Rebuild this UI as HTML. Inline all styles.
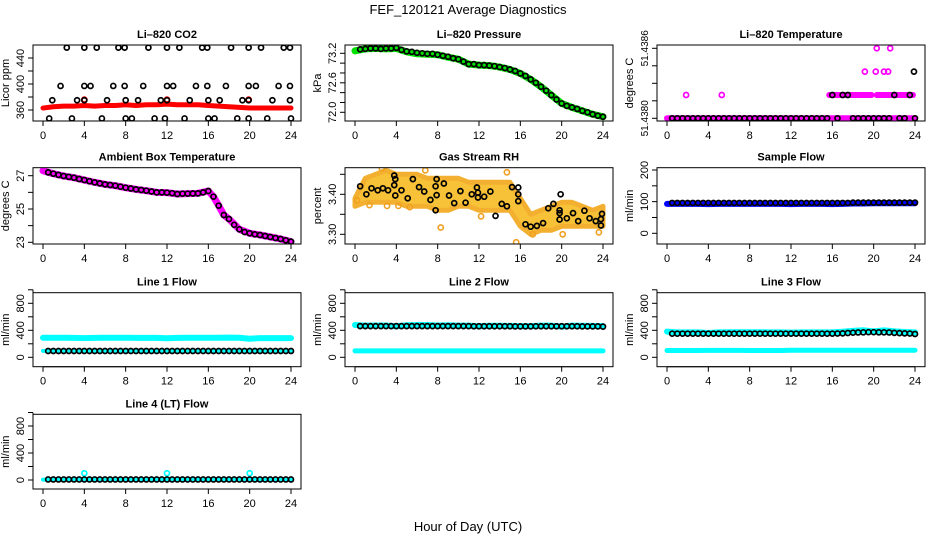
<!DOCTYPE html>
<html><head><meta charset="utf-8"><style>
html,body{margin:0;padding:0;background:#fff;}
svg{display:block;font-family:"Liberation Sans",sans-serif;}
</style></head><body>
<svg id="chart" width="936" height="540" viewBox="0 0 936 540" xmlns="http://www.w3.org/2000/svg">
<rect x="0" y="0" width="936" height="540" fill="#fff"/>
<text x="468" y="14" text-anchor="middle" font-size="13">FEF_120121  Average Diagnostics</text>
<text x="468" y="531" text-anchor="middle" font-size="13">Hour of Day (UTC)</text>
</svg>
<script>
const halfHours=[0.5,1,1.5,2,2.5,3,3.5,4,4.5,5,5.5,6,6.5,7,7.5,8,8.5,9,9.5,10,10.5,11,11.5,12,12.5,13,13.5,14,14.5,15,15.5,16,16.5,17,17.5,18,18.5,19,19.5,20,20.5,21,21.5,22,22.5,23,23.5,24];
const hourly=[0,1,2,3,4,5,6,7,8,9,10,11,12,13,14,15,16,17,18,19,20,21,22,23,24];
const xTickLabels=[0,4,8,12,16,20,24];
// CO2
const co2Band=[363,365,366,366,367,366,367,367,368,367,368,368,369,368,368,368,367,366,365,364,363,363,363,363,363];
const co2BlackHours=[2.3,4.0,5.2,7.3,7.9,10.2,12.0,13.2,15.4,15.9,18.2,19.9,21.1,23.3,23.9,1.7,4.0,4.6,6.8,7.9,9.7,12.0,12.6,14.8,15.9,17.7,19.9,20.6,22.8,23.9,0.9,3.3,4.0,6.2,8.0,9.2,11.4,12.0,14.2,16.0,17.1,19.3,19.9,22.2,23.9,0.6,2.8,5.7,8.0,8.6,10.8,11.8,13.7,16.0,16.6,18.8,19.9,21.7,24.0];
const co2BlackVals=[456,456,456,456,456,456,456,456,456,456,456,456,456,456,456,397,397,397,397,397,397,397,397,397,397,397,397,397,397,397,375,375,375,375,375,375,375,375,375,375,375,375,375,375,375,347,347,347,347,347,347,347,347,347,347,347,347,347,347];
const co2RedHours=[4.0,12.0,19.9];
const co2RedVals=[376,376,376];
// Pressure
const pressBand=[73.25,73.29,73.30,73.29,73.30,73.23,73.19,73.18,73.17,73.12,73.08,72.98,72.96,72.95,72.92,72.87,72.79,72.67,72.52,72.35,72.18,72.10,72.03,71.96,71.91];
const pressBlack=[73.28,73.29,73.30,73.30,73.29,73.30,73.30,73.31,73.27,73.24,73.23,73.21,73.20,73.19,73.19,73.17,73.15,73.13,73.10,73.08,73.03,72.98,72.98,72.96,72.96,72.95,72.94,72.92,72.90,72.87,72.84,72.79,72.74,72.67,72.60,72.52,72.44,72.35,72.26,72.18,72.13,72.10,72.07,72.03,72.00,71.96,71.93,71.91];
// Li-820 Temperature
const tempBlack=[51.4380,51.4380,51.4380,51.4380,51.4380,51.4380,51.4380,51.4380,51.4380,51.4380,51.4380,51.4380,51.4380,51.4380,51.4380,51.4380,51.4380,51.4380,51.4380,51.4380,51.4380,51.4380,51.4380,51.4380,51.4380,51.4380,51.4380,51.4380,51.4380,51.4380,51.4380,51.4382,51.4380,51.4382,51.4382,51.4380,51.4380,51.4380,51.4380,51.4380,51.4380,51.4380,51.4380,51.4382,51.4380,51.4380,51.4382,51.4380];
const tempBlackExtraHours=[23.9];
const tempBlackExtraVals=[51.4384];
const tempMagHours=[1.85,5.3,19.15,20.2,21.0,21.4,20.3,21.6];
const tempMagVals=[51.4382,51.4382,51.4384,51.4384,51.4384,51.4384,51.4386,51.4386];
const tempMagSegStart=[0,15.7,20.3];
const tempMagSegEnd=[24,19.8,23.8];
const tempMagSegVal=[51.4380,51.4382,51.4382];
// Ambient
const ambHours=[0,1,2,3,4,5,6,7,8,9,10,11,12,13,14,15,16,16.5,17,17.5,18,19,20,21,22,23,24];
const ambBand=[27.3,27.12,26.98,26.88,26.74,26.6,26.48,26.4,26.28,26.18,26.1,26.0,25.98,25.9,25.92,25.94,26.08,25.74,25.2,24.64,24.4,23.78,23.54,23.44,23.32,23.2,23.04];
const ambBlack=[27.2,27.12,27.05,26.98,26.93,26.88,26.8,26.74,26.67,26.6,26.54,26.48,26.44,26.4,26.34,26.28,26.23,26.18,26.14,26.1,26.05,26.0,26.0,25.98,25.95,25.9,25.92,25.92,25.93,25.94,26.0,26.08,25.74,25.2,24.64,24.4,24.05,23.78,23.62,23.54,23.48,23.44,23.38,23.32,23.26,23.2,23.12,23.04];
// Gas stream RH
const rhLo=[3.37,3.38,3.38,3.38,3.38,3.37,3.37,3.37,3.36,3.36,3.37,3.37,3.36,3.36,3.36,3.36,3.32,3.30,3.31,3.31,3.32,3.32,3.32,3.32,3.32];
const rhHi=[3.39,3.44,3.45,3.46,3.45,3.45,3.45,3.44,3.44,3.44,3.44,3.43,3.43,3.43,3.43,3.43,3.39,3.35,3.36,3.37,3.38,3.38,3.37,3.36,3.37];
const rhOrangeHours=[1.4,3.1,4.2,5.3,6.8,8.3,12.2,14.7,15.6,17.2,20.1,23.6,0.2,2.6];
const rhOrangeVals=[3.373,3.371,3.371,3.368,3.46,3.317,3.345,3.455,3.28,3.30,3.30,3.305,3.385,3.465];
const rhBlackHours=[0.5,1.1,1.6,2.2,2.7,3.2,3.8,3.8,3.9,3.9,4.5,5.1,5.6,6.2,6.7,7.3,7.8,7.8,7.9,7.9,8.6,9.1,9.6,10.2,10.7,11.3,11.8,11.9,11.9,12.5,13.1,13.6,14.2,14.7,15.2,15.8,15.8,15.8,16.5,17.0,17.6,18.2,18.7,19.2,19.8,19.8,19.9,19.8,20.5,21.1,21.6,22.2,22.7,23.3,23.8,23.8,23.9];
const rhBlackVals=[3.42,3.40,3.415,3.41,3.415,3.41,3.447,3.423,3.438,3.397,3.41,3.39,3.438,3.418,3.407,3.386,3.36,3.42,3.438,3.398,3.427,3.397,3.378,3.408,3.379,3.40,3.417,3.392,3.404,3.394,3.407,3.346,3.376,3.37,3.418,3.417,3.40,3.383,3.325,3.319,3.321,3.328,3.365,3.376,3.36,3.337,3.40,3.353,3.34,3.353,3.333,3.359,3.34,3.333,3.338,3.322,3.351];
// Sample flow
const sampleBand=[93,93,93,93,92,93,93,93,93,93,93,93,92,93,93,93,92,93,94,94,95,95,95,95,95];
const sampleBlack=[96,96,96,96,96,96,96,96,96,96,96,96,96,96,96,96,96,96,96,96,96,96,96,96,96,96,96,96,96,96,96,96,96,96,96,97,97,97,97,97,97,97,97,97,97,97,97,97];
// Line flows
const line1CyanHi=[290,290,290,288,285,288,290,290,290,288,288,288,282,288,290,290,290,290,292,290,275,285,285,285,285];
const line1CyanLo=[95,95,95,95,95,95,95,95,95,95,95,95,95,95,95,95,95,98,100,100,100,100,98,95,95];
const line1Black=[93,93,93,93,93,93,93,93,93,93,93,93,93,93,93,93,93,93,93,93,93,93,93,93,93,93,93,93,93,93,93,93,93,93,93,93,93,93,93,93,93,93,93,93,93,93,93,93];
const line2CyanHi=[478,470,472,472,460,475,478,478,472,475,470,470,460,468,468,465,462,462,470,470,455,470,468,465,462];
const line2CyanLo=[95,95,95,95,95,95,95,95,95,95,95,95,95,95,95,95,95,95,95,95,95,95,95,95,95];
const line2Black=[462,462,462,462,462,462,462,462,462,462,462,462,462,462,462,462,462,462,462,462,462,462,460,460,460,460,460,460,460,460,458,458,458,458,460,460,460,460,460,460,460,460,460,458,458,458,458,455];
const line3CyanHi=[380,370,370,370,360,370,372,372,372,372,370,370,365,370,370,370,370,378,392,400,385,400,385,375,370];
const line3CyanLo=[100,100,100,100,102,102,102,102,100,100,100,100,105,105,105,105,105,105,105,105,105,105,105,105,105];
const line3Black=[350,350,350,350,350,350,350,350,350,350,350,350,350,350,350,350,350,350,350,350,350,350,350,350,350,350,350,350,350,350,350,350,352,355,360,365,368,370,372,372,370,370,368,362,358,355,352,345];
const line4Cyan=[5,5,5,5,5,5,5,5,5,5,5,5,5,5,5,5,5,5,5,5,5,5,5,5,5];
const line4SpikeHours=[4,12,20];
const line4SpikeVals=[100,100,100];
const line4Black=[8,8,8,8,8,8,8,8,8,8,8,8,8,8,8,8,8,8,8,8,8,8,8,8,8,8,8,8,8,8,8,8,8,8,8,8,8,8,8,8,8,8,8,8,8,8,8,8];

const NS='http://www.w3.org/2000/svg';
const svg=document.getElementById('chart');
const rowTop=[45,167.7,292.7,414.3];
const rowBot=[121,244,366.7,489];
function mk(tag,attrs,parent){const e=document.createElementNS(NS,tag);for(const k in attrs)e.setAttribute(k,attrs[k]);(parent||svg).appendChild(e);return e;}

function makePanel(p){
  const g=mk('g',{});
  
  
  const L=p.col*312+33, R=p.col*312+301, T=rowTop[p.row], B=rowBot[p.row];
  const x=h=>L+10+h*(R-L-20)/24;
  const y=v=>p.py1+(v-p.v1)*(p.py2-p.py1)/(p.v2-p.v1);
  const clip='clip-'+p.name;
  const cp=mk('clipPath',{id:clip},g);mk('rect',{x:L,y:T,width:R-L,height:B-T},cp);
  const data=mk('g',{'clip-path':'url(#'+clip+')'},g);
  p.draw(data,x,y);
  const box=mk('rect',{x:L,y:T,width:R-L,height:B-T,fill:'none',stroke:'#000','stroke-width':1},g);
  
  
  const t=mk('text',{x:(L+R)/2,y:T-7,'text-anchor':'middle','font-size':11,'font-weight':'bold'},g);
  t.textContent=p.title;
  
  
  const xa=mk('g',{},g);
  
  
  mk('line',{x1:x(0),x2:x(24),y1:B,y2:B,stroke:'#000'},xa);
  xTickLabels.forEach(v=>{
    mk('line',{x1:x(v),x2:x(v),y1:B,y2:B+5,stroke:'#000'},xa);
    const tl=mk('text',{x:x(v),y:B+18,'text-anchor':'middle','font-size':11},xa);tl.textContent=v;
  });
  const ya=mk('g',{},g);
  
  
  const yt=p.yTicks;
  mk('line',{x1:L,x2:L,y1:y(yt[0]),y2:y(yt[yt.length-1]),stroke:'#000'},ya);
  yt.forEach(v=>mk('line',{x1:L-5,x2:L,y1:y(v),y2:y(v),stroke:'#000'},ya));
  const fs=p.yLabelSize||11;
  p.yLabels.forEach((v,i)=>{
    const yy=y(v);
    const tl=mk('text',{x:L-9,y:yy,'text-anchor':'middle','font-size':fs,transform:'rotate(-90 '+(L-9)+' '+yy+')'},ya);
    tl.textContent=p.yLabelText?p.yLabelText[i]:v;
  });
  const my=(T+B)/2;
  const at=mk('text',{x:L-24,y:my,'text-anchor':'middle','font-size':11,transform:'rotate(-90 '+(L-24)+' '+my+')'},g);
  at.textContent=p.ytitle;
  
  
}
function band(par,hs,vs,x,y,color,w,name){
  const pl=mk('polyline',{points:hs.map((h,i)=>x(h)+','+y(vs[i])).join(' '),fill:'none',stroke:color,'stroke-width':w,'stroke-linejoin':'round','stroke-linecap':'round'},par);
  
  
}
function circles(par,hs,vs,x,y,color,name,r,sw){
  const gg=mk('g',{},par);
  
  
  hs.forEach((h,i)=>mk('circle',{cx:x(h),cy:y(vs[i]),r:r||2.5,fill:'none',stroke:color,'stroke-width':sw||1.7},gg));
}

makePanel({name:'co2',title:'Li\u2013820 CO2',col:0,row:0,ytitle:'Licor ppm',v1:360,py1:110,v2:440,py2:58,
  yTicks:[360,380,400,420,440],yLabels:[360,400,440],
  draw:(g,x,y)=>{band(g,hourly,co2Band,x,y,'#ff0000',5,'co2-red-series');
    circles(g,co2RedHours,co2RedVals,x,y,'#ff0000','co2-red-outliers');
    circles(g,co2BlackHours,co2BlackVals,x,y,'#000','co2-black-series');}});
makePanel({name:'pressure',title:'Li\u2013820 Pressure',col:1,row:0,ytitle:'kPa',v1:73.2,py1:53.3,v2:72.0,py2:112.3,
  yTicks:[72.0,72.2,72.4,72.6,72.8,73.0,73.2],yLabels:[72.0,72.6,73.2],yLabelText:['72.0','72.6','73.2'],
  draw:(g,x,y)=>{band(g,hourly,pressBand,x,y,'#00e000',7,'pressure-green-series');
    circles(g,halfHours,pressBlack,x,y,'#000','pressure-black-series');}});
makePanel({name:'li820-temperature',title:'Li\u2013820 Temperature',col:2,row:0,ytitle:'degrees C',v1:51.4380,py1:118.3,v2:51.4386,py2:48.3,
  yTicks:[51.4380,51.43815,51.4383,51.43845,51.4386],yLabels:[51.4380,51.4386],yLabelText:['51.4380','51.4386'],yLabelSize:10,
  draw:(g,x,y)=>{
    tempMagSegStart.forEach((s,i)=>band(g,[s,tempMagSegEnd[i]],[tempMagSegVal[i],tempMagSegVal[i]],x,y,'#ff00ff',6,'temp-magenta-band'));
    circles(g,tempMagHours,tempMagVals,x,y,'#ff00ff','temp-magenta-points');
    circles(g,halfHours,tempBlack,x,y,'#000','temp-black-series');
    circles(g,tempBlackExtraHours,tempBlackExtraVals,x,y,'#000','temp-black-extra');}});
makePanel({name:'ambient-temperature',title:'Ambient Box Temperature',col:0,row:1,ytitle:'degrees C',v1:27,py1:175.7,v2:23,py2:242.3,
  yTicks:[23,24,25,26,27],yLabels:[23,25,27],
  draw:(g,x,y)=>{band(g,ambHours,ambBand,x,y,'#ff00ff',7,'ambient-magenta-series');
    circles(g,halfHours,ambBlack,x,y,'#000','ambient-black-series');}});
makePanel({name:'gas-rh',title:'Gas Stream RH',col:1,row:1,ytitle:'percent',v1:3.40,py1:194.3,v2:3.30,py2:234.3,
  yTicks:[3.30,3.35,3.40,3.45],yLabels:[3.30,3.40],yLabelText:['3.30','3.40'],
  draw:(g,x,y)=>{
    const pts=hourly.map((h,i)=>x(h)+','+y(rhHi[i])).concat(hourly.slice().reverse().map((h,j)=>x(h)+','+y(rhLo[24-j])));
    const pg=mk('polygon',{points:pts.join(' '),fill:'#f8c238',stroke:'#f3b030','stroke-width':5,'stroke-linejoin':'round'},g);
    
    
    circles(g,rhOrangeHours,rhOrangeVals,x,y,'#f0a020','rh-orange-outliers',2.6,1.6);
    circles(g,rhBlackHours,rhBlackVals,x,y,'#000','rh-black-series');}});
makePanel({name:'sample-flow',title:'Sample Flow',col:2,row:1,ytitle:'ml/min',v1:0,py1:233.3,v2:200,py2:170,
  yTicks:[0,50,100,150,200],yLabels:[0,100,200],
  draw:(g,x,y)=>{band(g,hourly,sampleBand,x,y,'#0000ff',6,'sample-blue-series');
    circles(g,halfHours,sampleBlack,x,y,'#000','sample-black-series');}});
const flowTicks=[0,200,400,600,800,1000],flowLabels=[0,400,800];
makePanel({name:'line1-flow',title:'Line 1 Flow',col:0,row:2,ytitle:'ml/min',v1:0,py1:357.3,v2:800,py2:303.3,
  yTicks:flowTicks,yLabels:flowLabels,
  draw:(g,x,y)=>{band(g,hourly,line1CyanHi,x,y,'#00ffff',6,'line1-cyan-high');
    band(g,hourly,line1CyanLo,x,y,'#00ffff',4,'line1-cyan-low');
    circles(g,halfHours,line1Black,x,y,'#000','line1-black-series');}});
makePanel({name:'line2-flow',title:'Line 2 Flow',col:1,row:2,ytitle:'ml/min',v1:0,py1:357.3,v2:800,py2:303.3,
  yTicks:flowTicks,yLabels:flowLabels,
  draw:(g,x,y)=>{band(g,hourly,line2CyanHi,x,y,'#00ffff',6,'line2-cyan-high');
    band(g,hourly,line2CyanLo,x,y,'#00ffff',5,'line2-cyan-low');
    circles(g,halfHours,line2Black,x,y,'#000','line2-black-series');}});
makePanel({name:'line3-flow',title:'Line 3 Flow',col:2,row:2,ytitle:'ml/min',v1:0,py1:357.3,v2:800,py2:303.3,
  yTicks:flowTicks,yLabels:flowLabels,
  draw:(g,x,y)=>{band(g,hourly,line3CyanHi,x,y,'#00ffff',6,'line3-cyan-high');
    band(g,hourly,line3CyanLo,x,y,'#00ffff',5,'line3-cyan-low');
    circles(g,halfHours,line3Black,x,y,'#000','line3-black-series');}});
makePanel({name:'line4-flow',title:'Line 4 (LT) Flow',col:0,row:3,ytitle:'ml/min',v1:0,py1:480,v2:800,py2:426,
  yTicks:flowTicks,yLabels:flowLabels,
  draw:(g,x,y)=>{band(g,hourly,line4Cyan,x,y,'#00ffff',4,'line4-cyan-series');
    circles(g,line4SpikeHours,line4SpikeVals,x,y,'#00ffff','line4-cyan-spikes');
    circles(g,halfHours,line4Black,x,y,'#000','line4-black-series');}});
</script>
</body></html>
